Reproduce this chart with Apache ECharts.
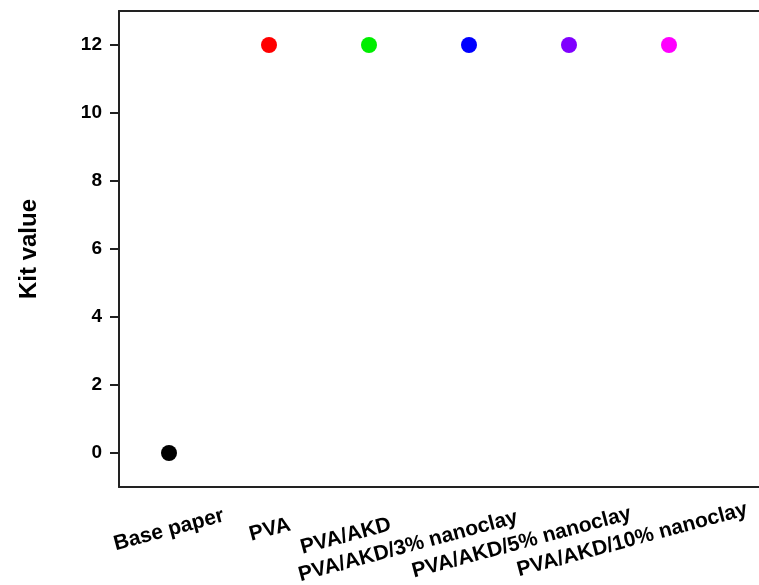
<!DOCTYPE html>
<html>
<head>
<meta charset="utf-8">
<script src="https://cdn.jsdelivr.net/npm/echarts@6/dist/echarts.min.js"></script>
<style>
  html, body { margin: 0; padding: 0; background: #ffffff; }
  #chart { width: 759px; height: 585px; }
</style>
</head>
<body>
<div id="chart"></div>
<script>
// Samples and their measured Kit values
const categories = ['Base paper', 'PVA', 'PVA/AKD', 'PVA/AKD/3% nanoclay', 'PVA/AKD/5% nanoclay', 'PVA/AKD/10% nanoclay'];
const kitValues = [0, 12, 12, 12, 12, 12];
const pointColors = ['#000000', '#ff0000', '#00ee00', '#0000ff', '#8000ff', '#ff00ff'];
const yTicks = [0, 2, 4, 6, 8, 10, 12];

// Label nudges (along / across the rotated text) so the long names fan out below the axis
const labelShift = [[0, 7], [1, -25], [-24, -21], [-63, 2], [-49, 11], [-38, 14]];

const font = '"Liberation Sans", Arial, sans-serif';

// A trailing empty slot leaves room on the right as the frame runs off the page
const axisData = categories.map((c, i) => {
  const a = labelShift[i][0], b = labelShift[i][1];
  const pad = [Math.max(0, 2 * b), Math.max(0, -2 * a), Math.max(0, -2 * b), Math.max(0, 2 * a)];
  return {
    value: c,
    textStyle: {
      align: 'center',
      verticalAlign: 'middle',
      padding: pad,
      color: '#000',
      fontFamily: font,
      fontWeight: 'bold',
      fontSize: 21
    }
  };
}).concat([{ value: '' }]);

const chart = echarts.init(document.getElementById('chart'));
chart.setOption({
  backgroundColor: '#ffffff',
  animation: false,
  grid: { left: 119, top: 11, width: 700, height: 476, outerBoundsMode: 'none', containLabel: false },
  xAxis: [{
    type: 'category',
    data: axisData,
    boundaryGap: true,
    axisLine: { show: true, onZero: false, lineStyle: { color: '#222', width: 2 } },
    axisTick: { show: false },
    axisLabel: {
      rotate: 15,
      interval: 0,
      margin: 43,
      color: '#000',
      fontFamily: font,
      fontWeight: 'bold',
      fontSize: 21
    },
    splitLine: { show: false }
  }, {
    type: 'category',
    position: 'top',
    data: axisData,
    axisLine: { show: true, onZero: false, lineStyle: { color: '#222', width: 2 } },
    axisTick: { show: false },
    axisLabel: { show: false },
    splitLine: { show: false }
  }],
  yAxis: {
    type: 'value',
    min: -1,
    max: 13,
    name: 'Kit value',
    nameLocation: 'middle',
    nameGap: 78,
    nameTextStyle: { color: '#000', fontFamily: font, fontWeight: 'bold', fontSize: 24 },
    axisLine: { show: true, lineStyle: { color: '#222', width: 2 } },
    axisTick: { show: true, inside: false, length: 9, lineStyle: { color: '#222', width: 2 }, customValues: yTicks },
    axisLabel: { margin: 17, color: '#000', fontFamily: font, fontWeight: 'bold', fontSize: 19, customValues: yTicks },
    splitLine: { show: false }
  },
  series: [{
    type: 'scatter',
    symbol: 'circle',
    symbolSize: 16,
    itemStyle: { opacity: 1 },
    data: kitValues.map((v, i) => ({ value: [categories[i], v], itemStyle: { color: pointColors[i], opacity: 1 } }))
  }]
});
</script>
</body>
</html>
